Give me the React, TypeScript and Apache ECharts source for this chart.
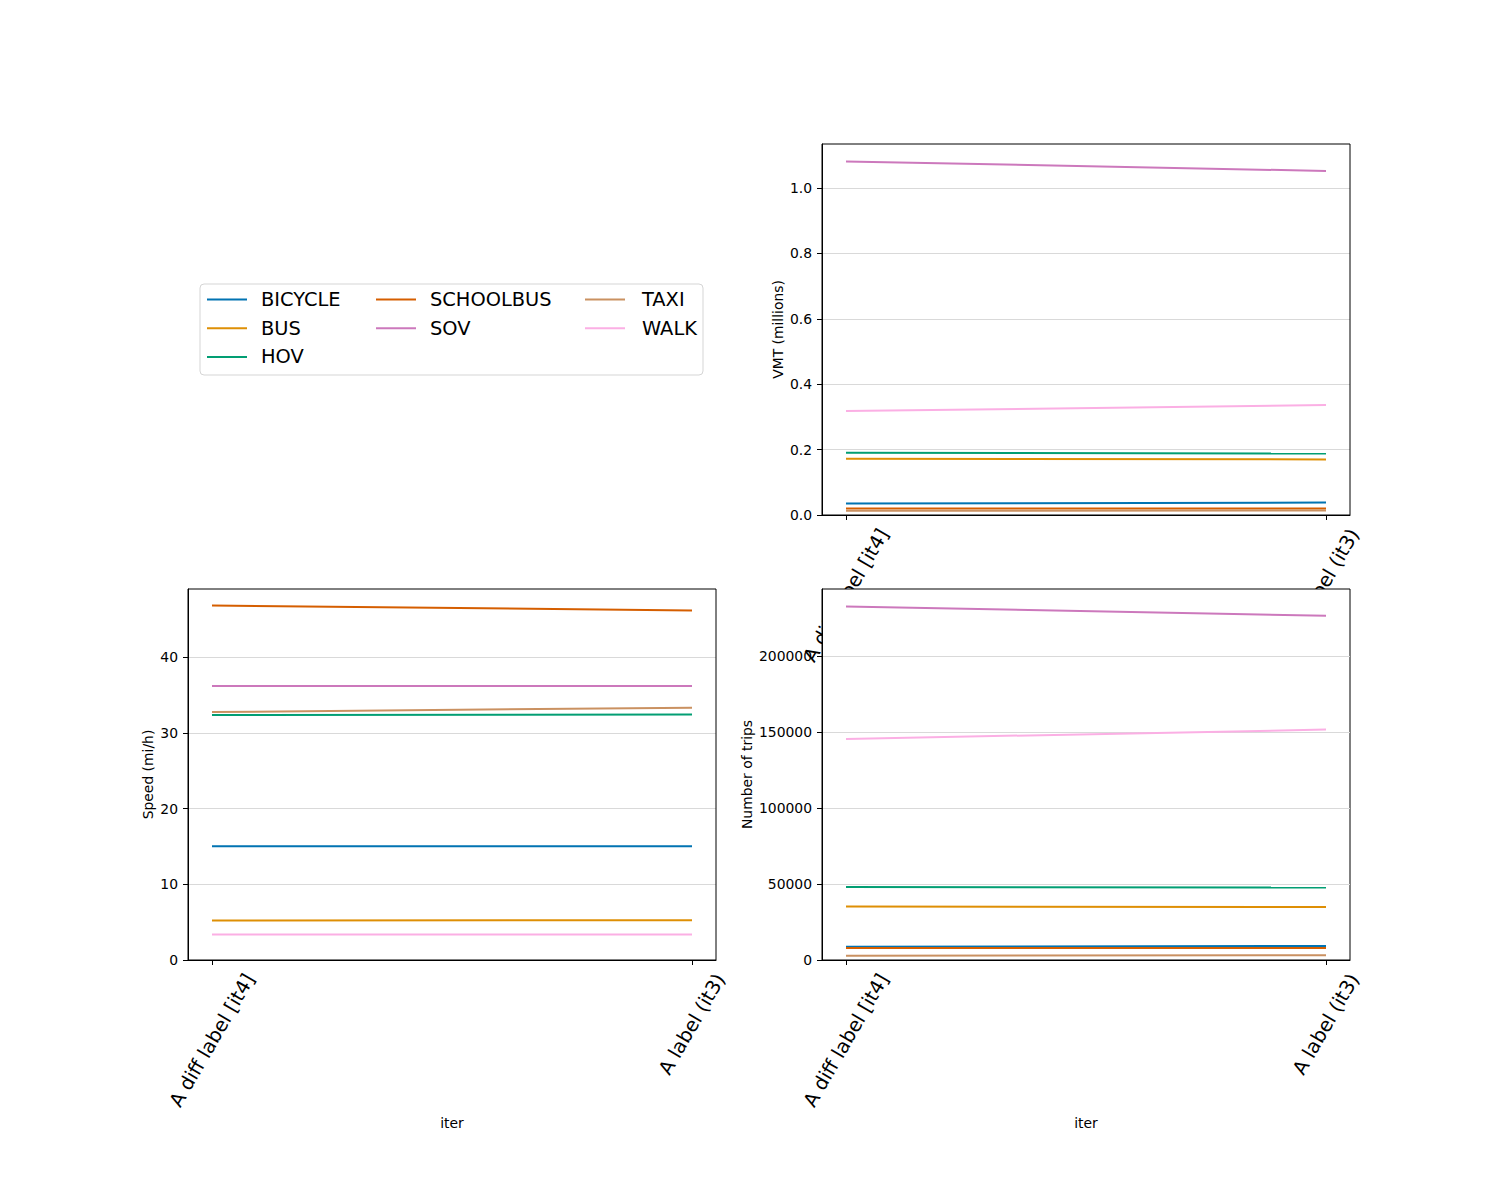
import React, { useEffect, useRef } from 'react';
import * as echarts from 'echarts';

// ---------------- data ----------------
const categories = ['A diff label [it4]', 'A label (it3)'];
const modes = ['BICYCLE', 'BUS', 'HOV', 'SCHOOLBUS', 'SOV', 'TAXI', 'WALK'];
const modeColors = ['#0173b2', '#de8f05', '#029e73', '#d55e00', '#cc78bc', '#ca9161', '#fbafe4'];

// VMT (millions), per mode, for each iteration
const vmtIt4 = [0.035, 0.172, 0.19, 0.02, 1.081, 0.013, 0.318];
const vmtIt3 = [0.038, 0.17, 0.188, 0.02, 1.052, 0.014, 0.336];
// Speed (mi/h)
const speedIt4 = [15.05, 5.22, 32.38, 46.87, 36.22, 32.78, 3.38];
const speedIt3 = [15.05, 5.27, 32.47, 46.2, 36.22, 33.35, 3.38];
// Number of trips
const tripsIt4 = [8800, 35200, 48100, 7900, 232900, 2860, 145600];
const tripsIt3 = [9250, 34900, 47700, 7900, 226800, 3200, 151800];

// tick labels
const vmtTicks = [0, 0.2, 0.4, 0.6, 0.8, 1.0];
const speedTicks = [0, 10, 20, 30, 40];
const tripsTicks = [0, 50000, 100000, 150000, 200000];

const legendCols = [
  ['BICYCLE', 'BUS', 'HOV'],
  ['SCHOOLBUS', 'SOV'],
  ['TAXI', 'WALK'],
];

// ---------------- layout / style ----------------
const FONT = 'DejaVu Sans';
const PLOT_W = 528;
const PLOT_H = 371;
const TICK_FS = 13.9;
const XLABEL_FS = 19.4;

const panels = [
  { left: 822, top: 144, name: 'VMT (millions)', nameGap: 37, it4: vmtIt4, it3: vmtIt3, ticks: vmtTicks, interval: 0.2, fmt: (v: number) => v.toFixed(1), xName: '' },
  { left: 188, top: 589, name: 'Speed (mi/h)', nameGap: 33, it4: speedIt4, it3: speedIt3, ticks: speedTicks, interval: 10, fmt: (v: number) => String(Math.round(v)), xName: 'iter' },
  { left: 822, top: 589, name: 'Number of trips', nameGap: 68, it4: tripsIt4, it3: tripsIt3, ticks: tripsTicks, interval: 50000, fmt: (v: number) => String(Math.round(v)), xName: 'iter' },
];

function autoMax(a: number[], b: number[]) {
  const all = a.concat(b);
  const mx = Math.max(...all);
  const mn = Math.min(...all);
  return mx + 0.05 * (mx - mn);
}

export default function App() {
  const ref = useRef<HTMLDivElement>(null);

  useEffect(() => {
    if (!ref.current) return;
    const chart = echarts.init(ref.current, undefined, { renderer: 'svg' });

    const grids: any[] = [];
    const xAxes: any[] = [];
    const yAxes: any[] = [];
    const series: any[] = [];

    panels.forEach((p, gi) => {
      const zBase = gi === 2 ? 10 : 0;
      grids.push({
        left: p.left, top: p.top, width: PLOT_W, height: PLOT_H,
        show: true, borderColor: '#000', borderWidth: 1, backgroundColor: 'transparent',
        z: gi === 2 ? 10 : 2,
      });
      xAxes.push({
        type: 'value', gridIndex: gi, min: -0.05, max: 1.05,
        z: zBase,
        name: p.xName, nameLocation: 'middle', nameGap: 156,
        nameTextStyle: { fontFamily: FONT, fontSize: TICK_FS, color: '#000' },
        axisLine: { show: true, onZero: false, lineStyle: { color: '#000', width: 1 } },
        axisTick: { show: true, length: 5, customValues: [0, 1], lineStyle: { color: '#000', width: 1 } },
        axisLabel: { show: false },
        splitLine: { show: false },
      });
      yAxes.push({
        type: 'value', gridIndex: gi, min: 0, max: autoMax(p.it4, p.it3), interval: p.interval,
        z: zBase,
        name: p.name, nameLocation: 'middle', nameGap: p.nameGap,
        nameTextStyle: { fontFamily: FONT, fontSize: TICK_FS, color: '#000' },
        axisLine: { show: true, onZero: false, lineStyle: { color: '#000', width: 1 } },
        axisTick: { show: true, length: 5, customValues: p.ticks, lineStyle: { color: '#000', width: 1 } },
        axisLabel: {
          show: true, customValues: p.ticks, margin: 10, color: '#000',
          fontFamily: FONT, fontSize: TICK_FS, formatter: (v: number) => p.fmt(v),
        },
        splitLine: { show: true, lineStyle: { color: '#d9d9d9', width: 1 } },
      });
      modes.forEach((m, mi) => {
        series.push({
          type: 'line', name: m, xAxisIndex: gi, yAxisIndex: gi,
          data: [[0, p.it4[mi]], [1, p.it3[mi]]],
          symbol: 'none', showSymbol: false,
          color: modeColors[mi],
          itemStyle: { color: modeColors[mi] },
          lineStyle: { color: modeColors[mi], width: 2 },
          z: gi === 2 ? 11 : 2,
          emphasis: { disabled: true },
        });
      });
    });

    const legends = legendCols.map((col, ci) => ({
      data: col,
      orient: 'vertical',
      left: [207, 376, 585][ci],
      top: 290,
      padding: 0,
      itemGap: 9.7,
      itemWidth: 40,
      itemHeight: 2,
      icon: 'rect',
      textStyle: { fontFamily: FONT, fontSize: XLABEL_FS, color: '#000', padding: [0, 0, 0, ci === 2 ? 12 : 9] },
    }));

    chart.setOption({
      animation: false,
      backgroundColor: '#fff',
      grid: grids,
      xAxis: xAxes,
      yAxis: yAxes,
      legend: legends,
      series,
    });

    // x tick labels rotated 60 deg, centred like matplotlib
    const canvas = document.createElement('canvas');
    const ctx = canvas.getContext('2d')!;
    ctx.font = `${XLABEL_FS}px "${FONT}"`;
    const lineH = XLABEL_FS * 1.17;
    const graphics: any[] = [
      {
        type: 'rect', z: 1,
        shape: { x: 200, y: 284, width: 503, height: 91, r: 4 },
        style: { fill: 'none', stroke: '#d5d5d5', lineWidth: 1 },
      },
      {
        type: 'rect', z: 6,
        shape: { x: panels[2].left, y: panels[2].top, width: PLOT_W, height: PLOT_H },
        style: { fill: '#fff', stroke: 'none' },
      },
    ];
    panels.forEach((p, gi) => {
      categories.forEach((c, ci) => {
        const pt = chart.convertToPixel({ gridIndex: gi } as any, [ci, 0]) as number[];
        const w = ctx.measureText(c).width;
        graphics.push({
          type: 'text',
          z: gi === 0 ? 5 : 12,
          x: pt[0] + 0.25 * w,
          y: pt[1] + 9.7 + 0.25 * lineH,
          rotation: Math.PI / 3,
          style: {
            text: c, fontFamily: FONT, fontSize: XLABEL_FS, fill: '#000',
            textAlign: 'right', textVerticalAlign: 'middle',
            align: 'right', verticalAlign: 'middle',
          },
        });
      });
    });
    chart.setOption({ graphic: graphics });

    return () => chart.dispose();
  }, []);

  return (
    <div
      ref={ref}
      style={{ position: 'absolute', left: 0, top: 0, width: 1500, height: 1200 }}
    />
  );
}
